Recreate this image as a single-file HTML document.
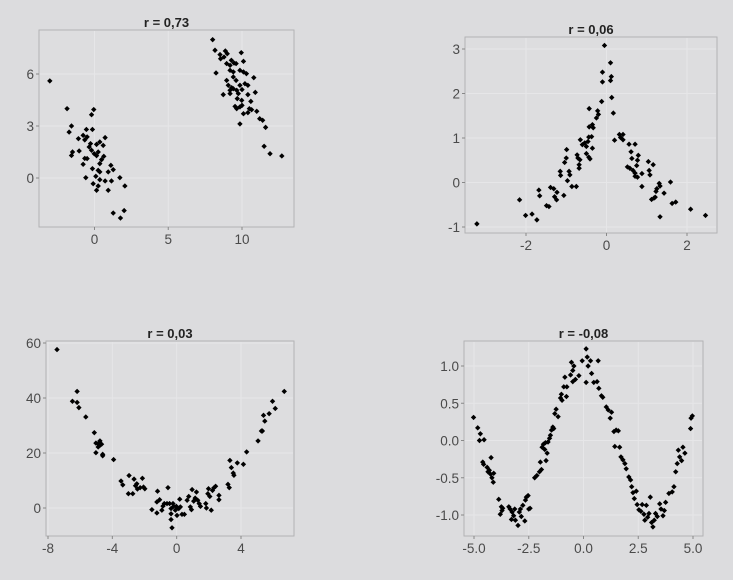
<!DOCTYPE html>
<html><head><meta charset="utf-8">
<style>
html,body{margin:0;padding:0;background:#dcdcde;}
svg{display:block;font-family:"Liberation Sans",sans-serif;}
</style></head>
<body>
<svg id="chart" width="733" height="580" viewBox="0 0 733 580" xmlns="http://www.w3.org/2000/svg">
<rect x="0" y="0" width="733" height="580" fill="#dcdcde"/>
</svg>
<script>
// Panel 1: r = 0,73
const p1Title = "r = 0,73";
const p1X = [-3.03,-1.86,-1.56,-1.72,-0.05,-0.2,-0.55,-0.14,-1.09,-0.77,-0.66,-0.5,0.72,0.36,0.59,-1.49,-1.04,-1.56,-0.36,-0.2,-0.02,0.14,0.25,0.14,-0.27,0.63,0.48,-0.66,-0.5,-0.77,0.36,1.11,1.27,-0.14,0.25,0.36,0.93,-0.59,0.09,1.72,0.36,0.72,1.15,-0.09,2.06,0.25,0.14,0.93,1.27,2.01,1.76,
8.01,8.17,8.24,8.51,8.55,8.78,8.87,9.0,9.95,10.1,9.28,8.96,9.19,9.46,9.6,9.19,9.41,9.86,10.1,10.3,9.41,9.6,10.8,8.96,9.07,9.3,9.86,10.2,10.4,9.19,9.41,9.64,10.0,10.9,8.73,9.19,9.75,10.4,9.68,9.98,10.6,9.53,9.86,10.0,9.64,10.5,10.65,10.1,10.4,11.0,11.2,11.4,9.86,11.6,11.5,11.9,12.7];
const p1Y = [5.6,4.0,3.0,2.65,3.95,3.65,2.8,2.8,2.27,2.46,2.2,2.37,2.33,2.08,1.88,1.5,1.56,1.3,1.79,1.6,1.4,1.29,1.5,1.94,1.98,1.25,1.06,1.13,1.12,0.79,0.83,0.73,0.48,0.54,0.44,0.35,0.35,0.02,0.1,0.02,-0.1,-0.17,-0.17,-0.33,-0.46,-0.46,-0.71,-0.71,-2.02,-1.88,-2.31,
7.98,7.37,6.06,7.12,6.88,6.98,7.33,7.17,7.23,6.73,6.79,6.6,6.5,6.63,6.6,6.21,6.12,6.21,6.12,6.02,5.83,5.63,5.79,5.63,5.35,5.21,5.35,5.44,5.35,5.06,5.15,5.06,5.1,4.94,4.81,4.87,4.87,4.81,4.58,4.48,4.42,4.13,4.1,4.19,4.0,4.0,3.94,3.71,3.77,3.85,3.42,3.33,3.12,2.92,1.83,1.4,1.27];
const p1XTicks = [0,5,10];
const p1YTicks = [0,3,6];
const p1XLabels = ["0","5","10"];
const p1YLabels = ["0","3","6"];

// Panel 2: r = 0,06
const p2Title = "r = 0,06";
const p2X = [-3.22,-2.16,-2.01,-1.85,-1.73,-1.68,-1.66,-1.49,-1.43,-1.39,-1.31,-1.29,-1.24,-1.23,-1.15,-1.14,-1.06,-1.04,-1.0,-0.99,-0.97,-0.93,-0.91,-0.86,-0.75,-0.73,-0.71,-0.68,-0.68,-0.66,-0.65,-0.6,-0.54,-0.5,-0.5,-0.46,-0.44,-0.41,-0.44,-0.37,-0.35,-0.43,-0.43,-0.35,-0.33,-0.25,-0.22,-0.2,-0.12,-0.1,-0.1,-0.05,0.1,0.12,0.1,0.13,0.17,0.2,0.32,0.35,0.41,0.41,0.56,0.71,0.61,0.79,0.77,0.63,0.52,0.58,0.66,0.71,0.75,0.71,0.77,0.88,1.04,1.06,1.08,1.16,0.88,1.25,1.31,1.33,1.23,1.12,1.18,1.21,1.43,1.33,1.59,1.63,1.72,2.09,2.46];
const p2Y = [-0.93,-0.39,-0.74,-0.71,-0.84,-0.17,-0.3,-0.52,-0.54,-0.11,-0.14,-0.32,-0.39,-0.22,0.25,0.16,-0.29,0.45,0.55,0.74,0.04,0.25,0.17,-0.09,-0.09,0.62,0.55,0.4,0.32,0.51,0.96,0.85,0.89,0.81,0.65,0.92,0.57,0.53,1.02,1.03,0.77,1.66,1.25,1.3,1.23,1.45,1.61,1.53,1.82,2.48,2.26,3.08,2.69,2.38,2.29,1.91,1.56,0.95,1.08,1.01,1.08,0.96,0.86,0.86,0.69,0.61,0.5,0.54,0.35,0.32,0.27,0.21,0.38,0.14,0.12,0.2,0.47,0.27,0.17,0.4,-0.09,-0.14,-0.02,-0.08,-0.2,-0.38,-0.35,-0.33,-0.24,-0.77,0.01,-0.47,-0.44,-0.6,-0.74];
const p2XTicks = [-2,0,2];
const p2YTicks = [-1,0,1,2,3];
const p2XLabels = ["-2","0","2"];
const p2YLabels = ["-1","0","1","2","3"];

// Panel 3: r = 0,03
const p3Title = "r = 0,03";
const p3X = [-7.44,-6.48,-6.19,-6.19,-6.08,-5.65,-5.12,-5.02,-5.02,-4.88,-4.77,-4.77,-4.67,-4.88,-4.6,-4.6,-3.92,-3.46,-3.35,-2.96,-3.0,-2.73,-2.65,-2.56,-2.44,-2.27,-2.13,-2.06,-1.98,-2.48,-1.54,-1.23,-1.19,-1.23,-1.06,-0.92,-0.85,-0.77,-0.54,-0.6,-0.44,-0.35,-0.35,-0.35,-0.29,-0.23,-0.19,-0.08,-0.02,0.02,0.13,0.23,0.19,0.33,0.48,0.65,0.75,0.85,0.96,0.92,1.06,1.15,1.23,1.31,1.4,1.48,1.81,1.85,1.94,1.98,2.06,2.15,2.23,2.31,2.42,2.63,2.63,3.19,3.27,3.31,3.4,3.52,3.56,3.77,4.15,4.35,5.06,5.27,5.33,5.4,5.48,5.75,5.96,6.13,6.69];
const p3Y = [57.6,38.8,42.4,38.4,36.5,33.1,27.4,23.6,20.1,23.4,24.4,22.8,23.2,22.2,19.5,19.0,17.6,9.8,8.4,11.8,5.2,5.2,10.5,8.1,6.9,7.4,10.8,7.6,7.0,8.8,-0.6,-1.8,6.1,2.2,3.0,-0.8,0.7,1.6,7.4,1.6,1.6,-0.2,-2.1,-4.2,-7.2,1.6,0.6,-0.8,0.6,-2.7,-0.2,0.4,3.2,-2.3,-2.3,2.8,4.2,0.4,6.7,-0.6,2.5,3.6,5.8,2.8,1.6,0.6,1.6,0,5.2,7.0,4.2,-0.8,6.4,7.3,7.9,3.0,4.6,8.6,7.4,17.3,14.7,12.7,11.9,16.4,15.9,20.4,24.4,28.0,28.0,33.7,31.6,34.3,38.8,36.2,42.4];
const p3XTicks = [-8,-4,0,4];
const p3YTicks = [0,20,40,60];
const p3XLabels = ["-8","-4","0","4"];
const p3YLabels = ["0","20","40","60"];

// Panel 4: r = -0,08
const p4Title = "r = -0,08";
const p4X = [-5.02,-4.83,-4.71,-4.75,-4.54,-4.6,-4.56,-4.4,-4.36,-4.3,-4.22,-4.25,-4.18,-4.1,-4.12,-3.87,-3.8,-3.75,-3.72,-3.69,-3.41,-3.35,-3.26,-3.29,-3.19,-3.14,-3.11,-2.99,-2.93,-2.88,-2.84,-2.77,-2.68,-2.65,-2.61,-2.53,-2.5,-2.44,-2.23,-2.13,-2.01,-1.97,-1.92,-1.89,-1.83,-1.77,-1.74,-1.71,-1.66,-1.62,-1.55,-1.51,-1.46,-1.4,-1.36,-1.31,-1.25,-1.16,-1.05,-1.01,-0.98,-0.9,-0.85,-0.78,-0.76,-0.59,-0.55,-0.49,-0.44,-0.49,-0.37,-0.21,-0.06,0.12,0.17,0.21,0.12,0.32,0.37,0.47,0.67,0.62,0.7,0.82,0.88,1.04,1.13,1.22,1.28,1.39,1.49,1.59,1.43,1.65,1.71,1.8,1.89,1.95,2.07,2.15,2.2,2.26,2.32,2.41,2.45,2.53,2.62,2.68,2.76,2.8,2.87,2.93,2.99,3.05,3.11,3.17,3.23,3.29,3.37,3.48,3.54,3.63,3.69,3.75,3.9,4.05,4.13,4.21,4.28,4.33,4.39,4.48,4.54,4.63,4.89,4.91,4.97];
const p4Y = [0.31,0.17,0.09,0.0,0.01,-0.29,-0.32,-0.36,-0.42,-0.4,-0.23,-0.45,-0.5,-0.44,-0.56,-0.79,-0.99,-0.89,-0.94,-0.91,-0.89,-0.92,-0.96,-1.06,-1.01,-0.92,-1.07,-1.14,-0.96,-0.92,-1.02,-0.87,-1.08,-0.8,-0.76,-0.74,-0.92,-0.91,-0.5,-0.47,-0.42,-0.29,-0.39,-0.09,-0.05,-0.12,-0.03,-0.27,-0.17,-0.02,0.03,0.07,0.14,0.18,0.16,0.36,0.42,0.32,0.57,0.62,0.54,0.72,0.85,0.59,0.72,0.88,1.05,0.94,1.0,0.79,0.82,0.87,1.07,1.23,1.12,1.0,0.78,1.07,0.9,0.78,1.07,0.79,0.7,0.6,0.58,0.45,0.41,0.3,0.38,0.12,0.14,0.13,-0.08,-0.09,-0.22,-0.26,-0.31,-0.38,-0.49,-0.53,-0.62,-0.7,-0.78,-0.68,-0.86,-0.93,-0.95,-0.86,-0.99,-1.07,-0.87,-1.03,-0.98,-0.76,-1.1,-1.16,-1.07,-0.98,-1.02,-0.85,-0.92,-1.01,-0.94,-0.83,-0.71,-0.69,-0.62,-0.42,-0.31,-0.13,-0.22,-0.27,-0.09,-0.17,0.16,0.3,0.33];
const p4XTicks = [-5,-2.5,0,2.5,5];
const p4YTicks = [-1,-0.5,0,0.5,1];
const p4XLabels = ["-5.0","-2.5","0.0","2.5","5.0"];
const p4YLabels = ["-1.0","-0.5","0.0","0.5","1.0"];

const NS = "http://www.w3.org/2000/svg";
const svg = document.getElementById('chart');
function mk(tag, attrs, parent){
  const e = document.createElementNS(NS, tag);
  for (const k in attrs) e.setAttribute(k, attrs[k]);
  parent.appendChild(e);
  return e;
}
function scale(d0,d1,r0,r1){ return v => r0 + (v-d0)*(r1-r0)/(d1-d0); }

function panel(id, box, xCal, yCal, title, titleY, xs, ys, xt, xl, yt, yl){
  const g = mk('g', {}, svg);
  
  
  const sx = scale(xCal[0], xCal[1], xCal[2], xCal[3]);
  const sy = scale(yCal[0], yCal[1], yCal[2], yCal[3]);
  const bg = mk('rect', {x:box[0], y:box[1], width:box[2]-box[0], height:box[3]-box[1], fill:'#dddddf', stroke:'#b2b2b4', 'stroke-width':1}, g);
  
  
  xt.forEach(v => {
    const l = mk('line', {x1:sx(v), x2:sx(v), y1:box[1]+1, y2:box[3]-1, stroke:'#e6e6e8', 'stroke-width':1}, g);
    
    
  });
  yt.forEach(v => {
    const l = mk('line', {x1:box[0]+1, x2:box[2]-1, y1:sy(v), y2:sy(v), stroke:'#e6e6e8', 'stroke-width':1}, g);
    
    
  });
  xt.forEach((v,i) => {
    const t = mk('line', {x1:sx(v), x2:sx(v), y1:box[3], y2:box[3]+3, stroke:'#888', 'stroke-width':1}, g);
    
    
    const tx = mk('text', {x:sx(v), y:box[3]+17, 'text-anchor':'middle', 'font-size':13.5, fill:'#4a4a4a'}, g);
    tx.textContent = xl[i];
    
    
  });
  yt.forEach((v,i) => {
    const t = mk('line', {x1:box[0]-3, x2:box[0], y1:sy(v), y2:sy(v), stroke:'#888', 'stroke-width':1}, g);
    
    
    const tx = mk('text', {x:box[0]-5, y:sy(v)+5, 'text-anchor':'end', 'font-size':13.5, fill:'#4a4a4a'}, g);
    tx.textContent = yl[i];
    
    
  });
  const tt = mk('text', {x:(box[0]+box[2])/2, y:titleY, 'text-anchor':'middle', 'font-size':13, 'font-weight':'bold', fill:'#222'}, g);
  tt.textContent = title;
  
  
  xs.forEach((xv,i) => {
    const px = sx(xv), py = sy(ys[i]), r = 2.7;
    const p = mk('polygon', {points:`${px},${py-r} ${px+r},${py} ${px},${py+r} ${px-r},${py}`, fill:'#000'}, g);
    
    
  });
}

panel('panel-r-073', [39,30,294,227], [0,10,94.5,242], [0,6,178,74], p1Title, 27, p1X, p1Y, p1XTicks, p1XLabels, p1YTicks, p1YLabels);
panel('panel-r-006', [465,37,717,233], [-2,2,526,687], [-1,3,227,49], p2Title, 34, p2X, p2Y, p2XTicks, p2XLabels, p2YTicks, p2YLabels);
panel('panel-r-003', [46,341,294,536], [-8,4,48,241], [0,60,508,343], p3Title, 338, p3X, p3Y, p3XTicks, p3XLabels, p3YTicks, p3YLabels);
panel('panel-r-neg008', [464,341,703,536], [-5,5,474,693], [-1,1,515,366], p4Title, 338, p4X, p4Y, p4XTicks, p4XLabels, p4YTicks, p4YLabels);
</script>
</body></html>
